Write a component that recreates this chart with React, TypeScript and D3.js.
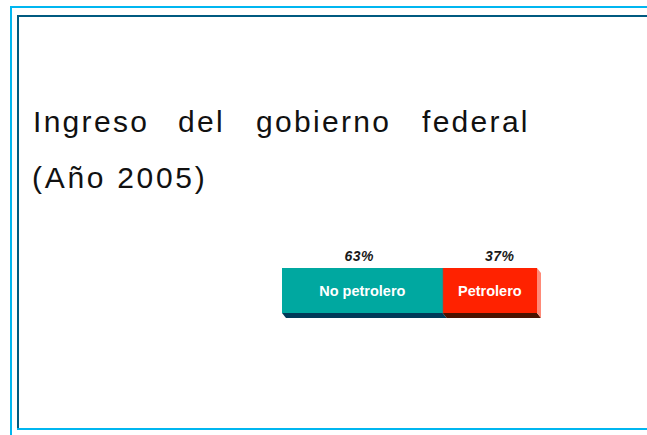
import React from "react";
import * as d3 from "d3";

const titleWords = ["Ingreso", "del", "gobierno", "federal"];
const titleLine2 = "(Año 2005)";
const categories = ["No petrolero", "Petrolero"];
const values = [63, 37];
const valueLabels = ["63%", "37%"];

const W = 647;
const H = 435;

export default function App() {
  const x = d3.scaleLinear().domain([0, 100]).range([282, 537]);
  const barTop = 268;
  const barH = 45;
  const dx = 4;
  const dy = 5;
  const frontColors = ["#00a8a0", "#ff2200"];
  const bottomColors = ["#003a58", "#4a1200"];
  const sideColor = "#ff8a78";

  let acc = 0;
  const segs = values.map((v, i) => {
    const s = { x0: x(acc), x1: x(acc + v), cat: categories[i], label: valueLabels[i], i };
    acc += v;
    return s;
  });

  const wordPos = [33, 178, 256, 422];

  const titleStyle = {
    fontFamily: "'Liberation Sans', Arial, sans-serif",
    fontSize: 30,
    letterSpacing: 2.3,
    fill: "#111",
  } as React.CSSProperties;

  const xEnd = x(100);

  return (
    <svg
      width={W}
      height={H}
      style={{ position: "absolute", left: 0, top: 0, background: "#fff" }}
    >
      {/* frame */}
      <rect x={10} y={6} width={2} height={H - 6} fill="#00b6f0" />
      <rect x={10} y={6} width={W - 10} height={2} fill="#00b6f0" />
      <rect x={17} y={15} width={2} height={414} fill="#005a80" />
      <rect x={17} y={15} width={W - 17} height={2} fill="#005a80" />
      <rect x={17} y={428} width={W - 17} height={2} fill="#00b6f0" />

      {/* title */}
      {titleWords.map((w, i) => (
        <text key={w} x={wordPos[i]} y={132} style={titleStyle}>
          {w}
        </text>
      ))}
      <text x={32} y={188} style={{ ...titleStyle, letterSpacing: 2.7 }}>
        {titleLine2}
      </text>

      {/* bar */}
      {segs.map((s) => (
        <g key={s.cat}>
          <polygon
            points={`${s.x0},${barTop + barH} ${s.x1},${barTop + barH} ${s.x1 + dx},${barTop + barH + dy} ${s.x0 + dx},${barTop + barH + dy}`}
            fill={bottomColors[s.i]}
          />
          <rect x={s.x0} y={barTop} width={s.x1 - s.x0} height={barH} fill={frontColors[s.i]} />
          <text
            x={(s.x0 + s.x1) / 2}
            y={296}
            textAnchor="middle"
            style={{
              fontFamily: "'Liberation Sans', Arial, sans-serif",
              fontWeight: "bold",
              fontSize: 14.5,
              fill: "#fff",
            }}
          >
            {s.cat}
          </text>
          <text
            x={(s.x0 + s.x1) / 2 + (s.i === 0 ? -3 : 10)}
            y={261}
            textAnchor="middle"
            style={{
              fontFamily: "'Liberation Sans', Arial, sans-serif",
              fontWeight: "bold",
              fontStyle: "italic",
              fontSize: 14,
              letterSpacing: 0.5,
              fill: "#1a1a1a",
            }}
          >
            {s.label}
          </text>
        </g>
      ))}
      <line x1={x(63)} x2={x(63)} y1={barTop} y2={barTop + barH} stroke="#1a8c88" strokeWidth={1} />
      <polygon
        points={`${xEnd},${barTop} ${xEnd + dx},${barTop + dy} ${xEnd + dx},${barTop + barH + dy} ${xEnd},${barTop + barH}`}
        fill={sideColor}
      />
    </svg>
  );
}
